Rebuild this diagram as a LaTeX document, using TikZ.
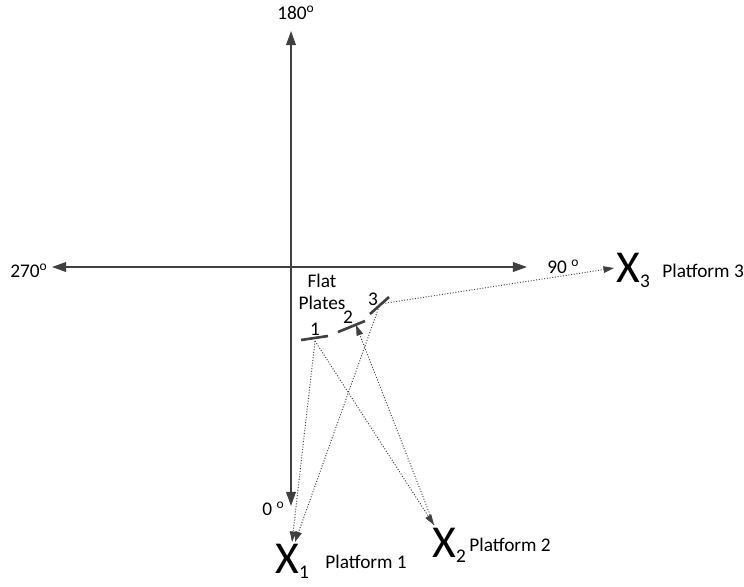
\documentclass[tikz,border=0pt]{standalone}
\usepackage{fontspec}
\setmainfont{Carlito}
\usetikzlibrary{arrows.meta, positioning}
\definecolor{axisgray}{RGB}{64,64,64}
\newcommand{\xsite}[1]{X\lower3pt\hbox{\fontsize{11}{12}\selectfont #1}}
\newcommand{\dg}{\textsuperscript{o}}

\begin{document}
\begin{tikzpicture}[x=0.02cm, y=-0.02cm,
  axis/.style={draw=axisgray, line width=0.9pt, -{Triangle[length=8pt, width=5.5pt]}},
  ray/.style={draw=axisgray, densely dotted, line width=0.55pt, -{Triangle[length=6pt, width=3.8pt]}},
  plate/.style={draw=axisgray, line width=1.5pt},
  lbl/.style={font=\fontsize{11}{12}\selectfont, inner sep=0pt},
  site/.style={font=\fontsize{26}{28}\selectfont, inner sep=0pt, anchor=base west}
]
  \useasboundingbox (0,0) rectangle (744,586);

  % axes
  \coordinate (o) at (291,267);
  \coordinate (north) at (291,31);
  \coordinate (south) at (291,506);
  \coordinate (west) at (52,267);
  \coordinate (east) at (527,267);
  \draw[axis] (o) -- (north);
  \draw[axis] (o) -- (south);
  \draw[axis] (o) -- (west);
  \draw[axis] (o) -- (east);

  \node[lbl, anchor=base west] (deg180) at (277,19) {180\dg};
  \node[lbl, anchor=base west] (deg270) at (10,277) {270\dg};
  \node[lbl, anchor=base west] (deg90) at (547,273) {90 \dg};
  \node[lbl, anchor=base west] (deg0) at (262,515) {0 \dg};

  % flat plates
  \draw[plate] (301,340) -- (328,336);
  \draw[plate] (338,332) -- (365,321);
  \draw[plate] (370,314) -- (389,297);
  \coordinate (pl1) at (315,341);
  \coordinate (pl2) at (356,325);
  \coordinate (pl3) at (380,304);

  \node[lbl, anchor=base] (flat) at (322,287) {Flat};
  \node[lbl, anchor=base] (plates) at (322,309) {Plates};
  \node[lbl, anchor=base] (n1) at (315,335) {1};
  \node[lbl, anchor=base] (n2) at (348,323) {2};
  \node[lbl, anchor=base] (n3) at (373,305) {3};

  % platforms
  \node[site] (x1) at (275,573) {\xsite{1}};
  \node[site] (x2) at (432,557) {\xsite{2}};
  \node[site] (x3) at (616,282) {\xsite{3}};
  \node[lbl, anchor=base west] (p1) at (325,568) {Platform 1};
  \node[lbl, anchor=base west] (p2) at (469,551) {Platform 2};
  \node[lbl, anchor=base west] (p3) at (662,277) {Platform 3};

  \coordinate (x1a) at (292,542);
  \coordinate (x1b) at (295,542);
  \coordinate (x2in) at (434,525);
  \coordinate (x3in) at (614,268);

  % rays
  \draw[ray] (pl1) -- (x1a);
  \draw[ray] (pl1) -- (x2in);
  \draw[ray] (x2in) -- (pl2);
  \draw[ray] (pl3) -- (x1b);
  \draw[ray] (pl3) -- (x3in);
\end{tikzpicture}
\end{document}
